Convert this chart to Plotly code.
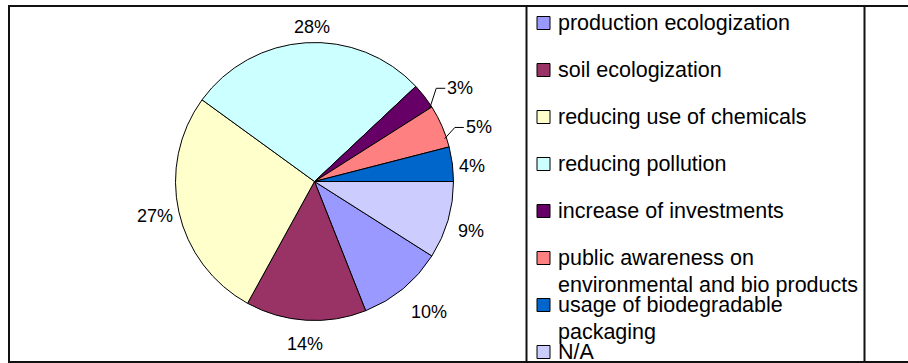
import math
import plotly.graph_objects as go

# ---- data -------------------------------------------------------------
categories = [
    "production ecologization",
    "soil ecologization",
    "reducing use of chemicals",
    "reducing pollution",
    "increase of investments",
    "public awareness on environmental and bio products",
    "usage of biodegradable packaging",
    "N/A",
]
shares = [10, 14, 27, 28, 3, 5, 4, 9]
legend_lines = [
    ["production ecologization"],
    ["soil ecologization"],
    ["reducing use of chemicals"],
    ["reducing pollution"],
    ["increase of investments"],
    ["public awareness on", "environmental and bio products"],
    ["usage of biodegradable", "packaging"],
    ["N/A"],
]
colors = ["#9999FF", "#993366", "#FFFFCC", "#CCFFFF",
          "#660066", "#FF8080", "#0066CC", "#CCCCFF"]

# ---- layout constants (pixels) ---------------------------------------
W, H = 908, 363
CX, CY, R = 314.5, 181.5, 139.0
ROTATION = 122.4
FONT = "Liberation Sans, Arial, sans-serif"
LABEL_SIZE = 18
LEGEND_SIZE = 21.5
# label placement: distance from centre and angular nudge from slice middle
label_radius = [174, 163, 163, 155, 173, 173, 158, 164]
label_nudge = [-1.7, -0.1, 0.5, 2.5, 5.2, 5.2, 1.7, 1.2]
leader = [False, False, False, False, True, True, False, False]

LEG_MARK_X0, LEG_MARK_X1 = 537, 550
LEG_TEXT_X = 556
LEG_Y0, LEG_STEP, LEG_LINE = 23, 47, 27


def px(x):
    return x / W


def py(y):
    return 1 - y / H


fig = go.Figure(go.Pie(
    labels=categories,
    values=shares,
    sort=False,
    direction="clockwise",
    rotation=ROTATION,
    marker=dict(colors=colors, line=dict(color="#000000", width=1)),
    textinfo="none",
    hoverinfo="label+percent",
    showlegend=False,
    domain=dict(x=[px(CX - R), px(CX + R)], y=[py(CY + R), py(CY - R)]),
))

annotations = []
shapes = []

# percentage labels around the pie
total = sum(shares)
start = ROTATION
for i, v in enumerate(shares):
    span = 360.0 * v / total
    ang = math.radians(start + span / 2 + label_nudge[i])
    start += span
    lx = CX + label_radius[i] * math.sin(ang)
    ly = CY - label_radius[i] * math.cos(ang)
    text = f"{round(v / total * 100)}%"
    annotations.append(dict(
        x=px(lx), y=py(ly), xref="paper", yref="paper", text=text,
        showarrow=False, xanchor="center", yanchor="middle",
        font=dict(family=FONT, size=LABEL_SIZE, color="#000000"),
    ))
    if leader[i]:
        tw = LABEL_SIZE * (0.556 * (len(text) - 1) + 0.889)
        left = lx - tw / 2
        sx = CX + (R - 2) * math.sin(ang)
        sy = CY - (R - 2) * math.cos(ang)
        path = (f"M {px(sx)} {py(sy)} L {px(left - 11)} {py(ly)} "
                f"L {px(left - 2)} {py(ly)}")
        shapes.append(dict(type="path", xref="paper", yref="paper", path=path,
                           line=dict(color="#000000", width=1)))

# legend
for i, lines in enumerate(legend_lines):
    yc = LEG_Y0 + i * LEG_STEP
    shapes.append(dict(
        type="rect", xref="paper", yref="paper",
        x0=px(LEG_MARK_X0), x1=px(LEG_MARK_X1),
        y0=py(yc + 6.5), y1=py(yc - 6.5),
        fillcolor=colors[i], line=dict(color="#000000", width=1),
    ))
    for j, line in enumerate(lines):
        annotations.append(dict(
            x=px(LEG_TEXT_X), y=py(yc + j * LEG_LINE), xref="paper", yref="paper",
            text=line, showarrow=False, xanchor="left", yanchor="middle",
            font=dict(family=FONT, size=LEGEND_SIZE, color="#000000"),
        ))

# frame lines
frame = [
    (8, 6, W, 6),
    (8, 362, W, 362),
    (9, 6, 9, 362),
    (526.5, 6, 526.5, 362),
    (864.5, 6, 864.5, 362),
]
for x0, y0, x1, y1 in frame:
    shapes.append(dict(type="line", xref="paper", yref="paper",
                       x0=px(x0), y0=py(y0), x1=px(x1), y1=py(y1),
                       line=dict(color="#111111", width=2)))

fig.update_layout(
    width=W, height=H, autosize=False,
    margin=dict(l=0, r=0, t=0, b=0),
    paper_bgcolor="#FFFFFF", plot_bgcolor="#FFFFFF",
    annotations=annotations, shapes=shapes,
)

fig.write_html("out.html")
